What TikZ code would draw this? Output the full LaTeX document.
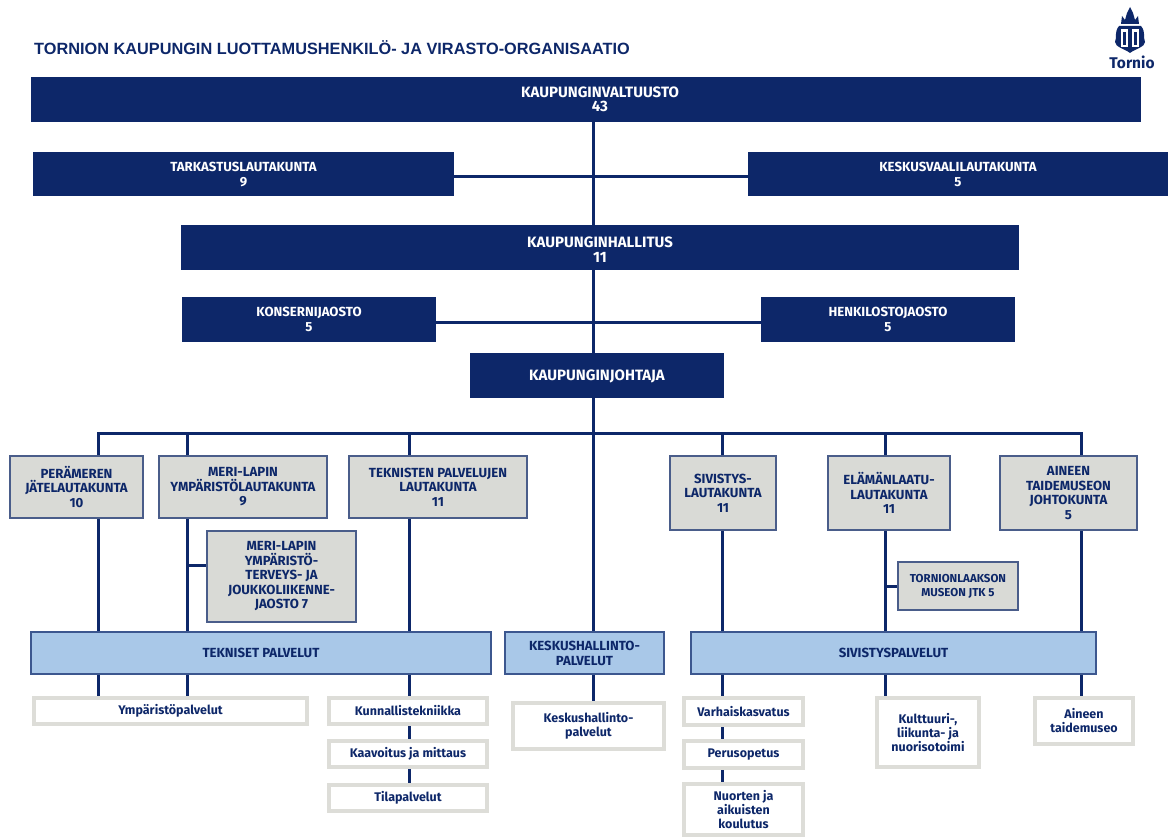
\documentclass[tikz,border=0pt]{standalone}
\usepackage{fontspec}
\setmainfont{Fira Sans}
\newfontfamily\titlefont{Liberation Sans}
\usetikzlibrary{backgrounds}
\definecolor{navy}{HTML}{0D2769}
\definecolor{graybox}{HTML}{D9DAD6}
\definecolor{bluebox}{HTML}{A9C8E8}
\definecolor{whiteedge}{HTML}{DDDDD8}
\newcommand{\bx}[7]{%
  \pgfmathsetmacro{\bxw}{#5-#3}\pgfmathsetmacro{\bxh}{#6-#4}%
  \pgfmathsetmacro{\bxcx}{(#3+#5)/2}\pgfmathsetmacro{\bxcy}{(#4+#6)/2}%
  \node[#2,minimum width=\bxw pt,minimum height=\bxh pt] (#1) at (\bxcx,\bxcy) {#7};}
\tikzset{
  base/.style={inner sep=0pt,outer sep=0pt,align=center,font=\fontsize{13.2}{15}\selectfont\bfseries},
  navybox/.style={base,fill=navy,text=white},
  bignavy/.style={navybox,font=\fontsize{15}{15}\selectfont\bfseries},
  graynode/.style={base,fill=graybox,draw=navy!70!graybox,line width=1.2pt,text=navy,font=\fontsize{13.2}{14.5}\selectfont\bfseries},
  bluenode/.style={base,fill=bluebox,draw=navy!70!bluebox,line width=1.2pt,text=navy},
  whitenode/.style={base,fill=white,draw=whiteedge,line width=3.5pt,text=navy,font=\fontsize{12.5}{14}\selectfont\bfseries},
  link/.style={draw=navy,line width=3pt},
}
\begin{document}
\begin{tikzpicture}[x=1pt,y=-1pt]
\useasboundingbox (0,0) rectangle (1169,837);
\node[anchor=west,inner sep=0pt,text=navy,font=\titlefont\fontsize{16.3}{18}\selectfont\bfseries] (title) at (34,48) {TORNION KAUPUNGIN LUOTTAMUSHENKILÖ- JA VIRASTO-ORGANISAATIO};
% logo
\fill[navy] (1121,24) -- (1122,16) -- (1125,20) -- (1127,13) -- (1130,7) -- (1133,13) -- (1135,20) -- (1138,16) -- (1139,24) -- cycle;
\fill[navy] (1119,26) -- (1141,26) .. controls (1146,32) and (1143,38) .. (1145,42) .. controls (1145,47) and (1135,49) .. (1130,53) .. controls (1125,49) and (1115,47) .. (1115,42) .. controls (1117,38) and (1114,32) .. (1119,26) -- cycle;
\fill[white] (1121,29) rectangle (1128,47);
\fill[white] (1132,29) rectangle (1139,47);
\fill[navy] (1123,32) rectangle (1126,45);
\fill[navy] (1134,32) rectangle (1137,45);
\node[inner sep=0pt,text=navy,font=\fontsize{15.5}{16}\selectfont\bfseries] (logotext) at (1132,62) {Tornio};
% boxes
\bx{kv}{bignavy,font=\fontsize{15}{14}\selectfont\bfseries}{31}{77}{1141}{122}{\hspace*{28pt}KAUPUNGINVALTUUSTO\\\hspace*{28pt}43}
\bx{tark}{navybox}{33}{152}{454}{196}{TARKASTUSLAUTAKUNTA\\9}
\bx{kesk}{navybox}{748}{152}{1168}{196}{KESKUSVAALILAUTAKUNTA\\5}
\bx{kh}{bignavy}{181}{225}{1019}{270}{\rule{0pt}{15pt}KAUPUNGINHALLITUS\\11}
\bx{kons}{navybox}{182}{297}{436}{342}{KONSERNIJAOSTO\\5}
\bx{henk}{navybox}{761}{297}{1015}{342}{HENKILOSTOJAOSTO\\5}
\bx{kj}{bignavy}{470}{353}{724}{398}{\rule{0pt}{13pt}KAUPUNGINJOHTAJA}
\bx{per}{graynode}{10}{456}{143}{518}{PERÄMEREN\\JÄTELAUTAKUNTA\\10}
\bx{meri}{graynode}{159}{456}{327}{518}{MERI-LAPIN\\YMPÄRISTÖLAUTAKUNTA\\9}
\bx{tek}{graynode}{349}{456}{527}{518}{TEKNISTEN PALVELUJEN\\LAUTAKUNTA\\11}
\bx{siv}{graynode}{670}{456}{776}{530}{SIVISTYS-\\LAUTAKUNTA\\11}
\bx{elam}{graynode}{828}{456}{950}{530}{ELÄMÄNLAATU-\\LAUTAKUNTA\\11}
\bx{aine}{graynode}{1000}{456}{1137}{530}{AINEEN\\TAIDEMUSEON\\JOHTOKUNTA\\5}
\bx{jaos}{graynode}{207}{531}{356}{622}{MERI-LAPIN\\YMPÄRISTÖ-\\TERVEYS- JA\\JOUKKOLIIKENNE-\\JAOSTO 7}
\bx{torn}{graynode,font=\fontsize{11.5}{14}\selectfont\bfseries}{898}{562}{1018}{610}{TORNIONLAAKSON\\MUSEON JTK 5}
\bx{tp}{bluenode}{31}{632}{491}{674}{TEKNISET PALVELUT}
\bx{kp}{bluenode}{505}{632}{664}{674}{KESKUSHALLINTO-\\PALVELUT}
\bx{sp}{bluenode}{691}{632}{1096}{674}{SIVISTYSPALVELUT}
\bx{ymp}{whitenode}{34}{698}{307}{724}{Ympäristöpalvelut}
\bx{kunn}{whitenode}{329}{698}{487}{724}{Kunnallistekniikka}
\bx{kaav}{whitenode}{329}{741}{487}{767}{Kaavoitus ja mittaus}
\bx{tila}{whitenode}{329}{785}{487}{811}{Tilapalvelut}
\bx{kes}{whitenode}{513}{703}{664}{749}{Keskushallinto-\\palvelut}
\bx{varh}{whitenode}{684}{698}{803}{725}{Varhaiskasvatus}
\bx{peru}{whitenode}{684}{741}{803}{768}{Perusopetus}
\bx{nuor}{whitenode}{684}{784}{803}{835}{Nuorten ja\\aikuisten\\koulutus}
\bx{kult}{whitenode}{877}{698}{979}{767}{Kulttuuri-,\\liikunta- ja\\nuorisotoimi}
\bx{ain}{whitenode}{1035}{698}{1133}{744}{Aineen\\taidemuseo}
% connector guides
\coordinate (trunk) at (593,433);
\coordinate (c1) at (98,433);
\coordinate (c2) at (187,433);
\coordinate (c3) at (409,433);
\coordinate (c4) at (722,433);
\coordinate (c5) at (885,433);
\coordinate (c6) at (1081,433);
\coordinate (stubA) at (187,565);
\coordinate (stubB) at (885,586);
\begin{scope}[on background layer]
\draw[link] (trunk |- kv.south) -- (trunk |- kp.north);
\draw[link] ([yshift=-3pt]tark.east) -- ([yshift=-3pt]kesk.west);
\draw[link] ([yshift=-3pt]kons.east) -- ([yshift=-3pt]henk.west);
\draw[link,line cap=rect] (c1) -- (c6);
\foreach \c/\a/\b in {c1/per/tp,c2/meri/tp,c3/tek/tp,c4/siv/sp,c5/elam/sp,c6/aine/sp}{
  \draw[link] (\c) -- (\c |- \a.north);
  \draw[link] (\c |- \a.south) -- (\c |- \b.north);
}
\draw[link] (stubA) -- (stubA -| jaos.west);
\draw[link] (stubB) -- (stubB -| torn.west);
\draw[link] (c1 |- tp.south) -- (c1 |- ymp.north);
\draw[link] (c2 |- tp.south) -- (c2 |- ymp.north);
\draw[link] (c3 |- tp.south) -- (c3 |- kunn.north);
\draw[link] (c3 |- kunn.south) -- (c3 |- kaav.north);
\draw[link] (c3 |- kaav.south) -- (c3 |- tila.north);
\draw[link] (trunk |- kp.south) -- (trunk |- kes.north);
\draw[link] (c4 |- sp.south) -- (c4 |- varh.north);
\draw[link] (c4 |- varh.south) -- (c4 |- peru.north);
\draw[link] (c4 |- peru.south) -- (c4 |- nuor.north);
\draw[link] (c5 |- sp.south) -- (c5 |- kult.north);
\draw[link] (c6 |- sp.south) -- (c6 |- ain.north);
\end{scope}
\end{tikzpicture}
\end{document}
